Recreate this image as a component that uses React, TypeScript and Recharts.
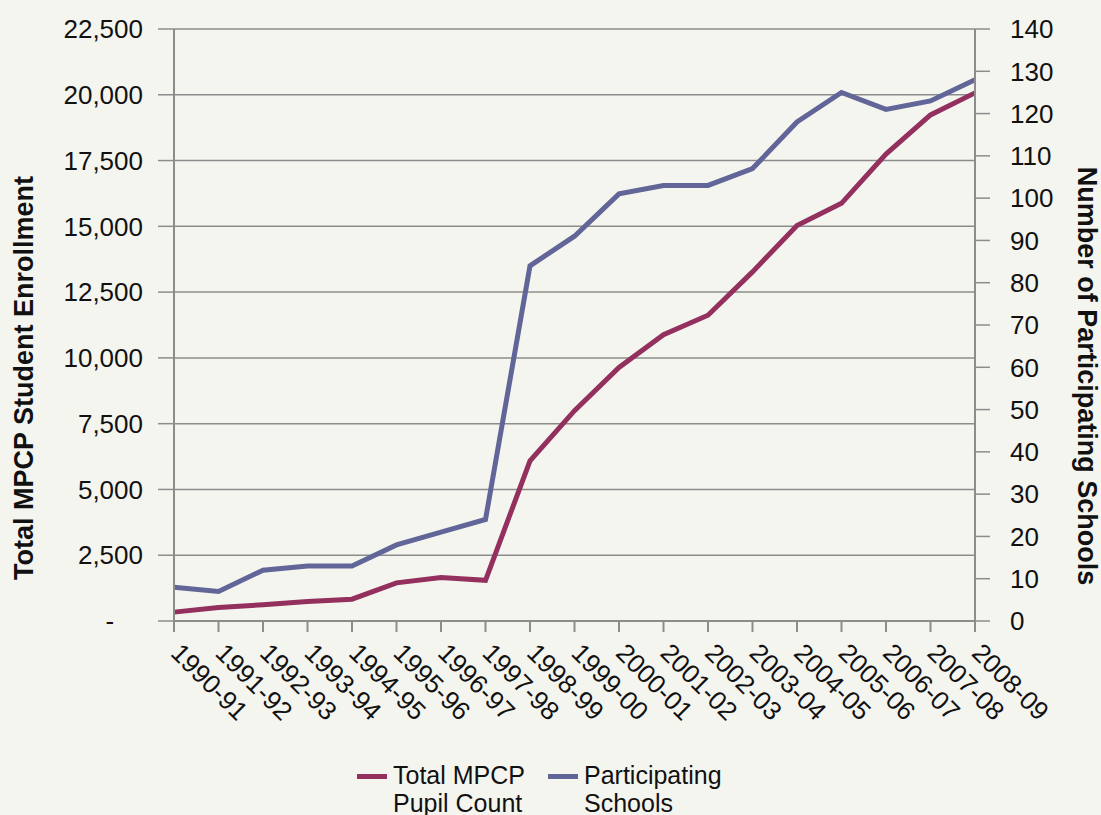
import {
  LineChart,
  Line,
  XAxis,
  YAxis,
  CartesianGrid,
  Legend,
  Label,
} from "recharts";

// school years on the x axis
const YEARS = [
  "1990-91",
  "1991-92",
  "1992-93",
  "1993-94",
  "1994-95",
  "1995-96",
  "1996-97",
  "1997-98",
  "1998-99",
  "1999-00",
  "2000-01",
  "2001-02",
  "2002-03",
  "2003-04",
  "2004-05",
  "2005-06",
  "2006-07",
  "2007-08",
  "2008-09",
];

// total MPCP pupil count (left axis)
const PUPILS = [
  337, 512, 620, 742, 830, 1450, 1650, 1545, 6085, 7996, 9638, 10882, 11621,
  13268, 15034, 15875, 17749, 19233, 20072,
];

// participating schools (right axis)
const SCHOOLS = [
  8, 7, 12, 13, 13, 18, 21, 24, 84, 91, 101, 103, 103, 107, 118, 125, 121, 123,
  128,
];

const LEFT_TICKS = [
  0, 2500, 5000, 7500, 10000, 12500, 15000, 17500, 20000, 22500,
];
const RIGHT_TICKS = [
  0, 10, 20, 30, 40, 50, 60, 70, 80, 90, 100, 110, 120, 130, 140,
];

// legend order as in the original figure
const LEGEND_ORDER = ["pupils", "schools"];

const PUPIL_COLOR = "#93305e";
const SCHOOL_COLOR = "#626598";
const GRID_COLOR = "#8c8c8c";
const TEXT_COLOR = "#111111";
const FONT = "'Liberation Sans', Arial, Helvetica, sans-serif";

const data = YEARS.map((year, i) => ({
  year,
  pupils: PUPILS[i],
  schools: SCHOOLS[i],
}));

const formatEnrollment = (v: number) =>
  v === 0 ? "-\u00a0\u00a0\u00a0\u00a0" : v.toLocaleString("en-US");

// x labels slanted down to the right, starting at the tick
const SlantTick = (props: any) => {
  const { x, y, payload } = props;
  return (
    <text
      x={x + 2}
      y={y}
      transform={`rotate(45 ${x + 2} ${y})`}
      textAnchor="start"
      dy="0.36em"
      fontSize={26}
      fontFamily={FONT}
      fill={TEXT_COLOR}
    >
      {payload.value}
    </text>
  );
};

const AxisTitle = ({ cx, cy, angle, text }: any) => (
  <text
    transform={`translate(${cx},${cy}) rotate(${angle})`}
    textAnchor="middle"
    dominantBaseline="central"
    fontSize={27}
    fontWeight="bold"
    fontFamily={FONT}
    fill={TEXT_COLOR}
  >
    {text}
  </text>
);

const renderLegend = (props: any) => {
  const payload = [...(props.payload || [])].sort(
    (a: any, b: any) =>
      LEGEND_ORDER.indexOf(a.dataKey) - LEGEND_ORDER.indexOf(b.dataKey)
  );
  return (
    <div
      style={{
        display: "flex",
        paddingLeft: 357,
        fontFamily: FONT,
        fontSize: 25,
        lineHeight: "27.5px",
        color: TEXT_COLOR,
      }}
    >
      {payload.map((entry: any, index: number) => (
        <div
          key={`legend-${index}`}
          style={{ display: "flex", alignItems: "flex-start", marginRight: 13 }}
        >
          <div
            style={{
              width: 30,
              height: 5,
              background: entry.color,
              marginTop: 12,
              marginRight: 6,
            }}
          />
          <div style={{ width: 142 }}>{entry.value}</div>
        </div>
      ))}
    </div>
  );
};

const App = () => {
  return (
    <div
      style={{
        position: "absolute",
        left: 0,
        top: 0,
        width: 1101,
        height: 815,
        background: "#f5f5f0",
        overflow: "hidden",
      }}
    >
      <LineChart
        width={1101}
        height={815}
        data={data}
        margin={{ top: 29, right: 0, bottom: 0, left: 0 }}
      >
        <CartesianGrid
          yAxisId="left"
          vertical={false}
          stroke={GRID_COLOR}
          strokeWidth={1.5}
        />
        <XAxis
          dataKey="year"
          interval={0}
          height={194}
          tickSize={11}
          tickMargin={16}
          tick={<SlantTick />}
          axisLine={{ stroke: GRID_COLOR, strokeWidth: 2 }}
          tickLine={{ stroke: GRID_COLOR, strokeWidth: 2 }}
        />
        <YAxis
          yAxisId="left"
          width={174}
          domain={[0, 22500]}
          ticks={LEFT_TICKS}
          interval={0}
          tickFormatter={formatEnrollment}
          tickSize={16}
          tickMargin={15}
          tick={{ fontSize: 26, fontFamily: FONT, fill: TEXT_COLOR }}
          axisLine={{ stroke: GRID_COLOR, strokeWidth: 2 }}
          tickLine={{ stroke: GRID_COLOR, strokeWidth: 1.5 }}
        >
          <Label
            content={() => (
              <AxisTitle
                cx={24}
                cy={378}
                angle={-90}
                text="Total MPCP Student Enrollment"
              />
            )}
          />
        </YAxis>
        <YAxis
          yAxisId="right"
          orientation="right"
          width={126}
          domain={[0, 140]}
          ticks={RIGHT_TICKS}
          interval={0}
          tickSize={15}
          tickMargin={20}
          tick={{
            fontSize: 26,
            fontFamily: FONT,
            fill: TEXT_COLOR,
            textAnchor: "start",
          }}
          axisLine={{ stroke: GRID_COLOR, strokeWidth: 2 }}
          tickLine={{ stroke: GRID_COLOR, strokeWidth: 1.5 }}
        >
          <Label
            content={() => (
              <AxisTitle
                cx={1087}
                cy={376}
                angle={90}
                text="Number of Participating Schools"
              />
            )}
          />
        </YAxis>
        <Line
          yAxisId="left"
          type="linear"
          dataKey="pupils"
          name="Total MPCP Pupil Count"
          stroke={PUPIL_COLOR}
          strokeWidth={5}
          dot={false}
          isAnimationActive={false}
        />
        <Line
          yAxisId="right"
          type="linear"
          dataKey="schools"
          name="Participating Schools"
          stroke={SCHOOL_COLOR}
          strokeWidth={5}
          dot={false}
          isAnimationActive={false}
        />
        <Legend
          layout="vertical"
          verticalAlign="middle"
          align="center"
          content={renderLegend}
          wrapperStyle={{ position: "absolute", top: 762, left: 0, width: 1101 }}
        />
      </LineChart>
    </div>
  );
};

export default App;
